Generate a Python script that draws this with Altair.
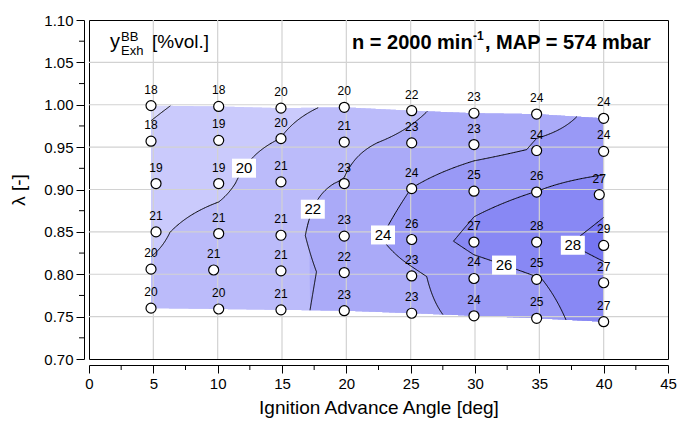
import numpy as np
import pandas as pd
import altair as alt
from collections import defaultdict

# Measured operating points, column by column (ignition advance sweep),
# rows ordered from lean (top) to rich (bottom).
IGN = [4.82, 4.82, 5.21, 5.21, 4.82, 4.82,
       10.08, 10.08, 10.08, 10.08, 9.69, 10.08,
       14.92, 14.92, 14.92, 14.92, 14.92, 14.92,
       19.84, 19.84, 19.84, 19.84, 19.84, 19.84,
       25.08, 25.08, 25.08, 25.08, 25.08, 25.08,
       29.92, 29.92, 29.92, 29.92, 29.92, 29.92,
       34.79, 34.79, 34.79, 34.79, 34.79, 34.79,
       40.0, 40.0, 39.66, 40.0, 40.0, 40.0]
LAM = [0.999, 0.957, 0.907, 0.850, 0.806, 0.760,
       0.998, 0.958, 0.907, 0.848, 0.805, 0.759,
       0.996, 0.960, 0.909, 0.846, 0.804, 0.758,
       0.997, 0.956, 0.907, 0.845, 0.802, 0.757,
       0.993, 0.955, 0.901, 0.841, 0.798, 0.754,
       0.990, 0.953, 0.898, 0.838, 0.795, 0.751,
       0.989, 0.946, 0.897, 0.838, 0.794, 0.748,
       0.984, 0.945, 0.894, 0.834, 0.790, 0.744]
YBB = [18, 18, 19, 21, 20, 20,
       18, 19, 19, 21, 21, 20,
       20, 20, 21, 21, 21, 21,
       20, 21, 23, 23, 22, 23,
       22, 23, 24, 26, 23, 23,
       23, 23, 25, 27, 24, 24,
       24, 24, 26, 28, 25, 25,
       24, 24, 27, 29, 27, 27]

# smoothed response surface at the same nodes (same column/row order)
YBB_FIT = [17.80, 18.27, 18.90, 19.60, 20.20, 20.60,
           18.50, 19.00, 19.40, 21.03, 20.80, 20.90,
           19.50, 20.02, 21.62, 21.50, 21.40, 21.50,
           20.35, 21.60, 22.07, 22.80, 22.47, 22.59,
           21.70, 22.40, 24.02, 24.98, 23.66, 23.60,
           22.90, 23.20, 25.49, 26.50, 25.07, 24.40,
           23.70, 24.15, 26.02, 27.30, 25.90, 25.30,
           24.20, 24.30, 27.43, 28.70, 27.07, 26.90]
N_COLS, N_ROWS = 8, 6

X_TICKS = [0, 5, 10, 15, 20, 25, 30, 35, 40, 45]
X_MINOR = [2.5, 7.5, 12.5, 17.5, 22.5, 27.5, 32.5, 37.5, 42.5]
Y_TICKS = [0.70, 0.75, 0.80, 0.85, 0.90, 0.95, 1.00, 1.05, 1.10]
Y_MINOR = [0.725, 0.775, 0.825, 0.875, 0.925, 0.975, 1.025, 1.075]

LEVELS = [18, 20, 22, 24, 26, 28]
BAND_COLORS = ["#d8d8fd", "#cacafc", "#bbbbfa", "#aaaaf8",
               "#9999f6", "#8888f4", "#7676f2"]

# where the level labels sit along their iso-lines
LABEL_LEVEL = [20, 22, 24, 26, 28]
LABEL_IGN = [12.4, 17.6, 22.7, 32.3, 37.6]
LABEL_LAM = [0.921, 0.876, 0.848, 0.811, 0.834]

W, H = 579, 339
FONT = "Liberation Sans"

# ---- node mesh: columns at the top-row ignition angle, rows at measured lambda ----
node_x = np.array(IGN, float).reshape(N_COLS, N_ROWS)[:, 0]
node_l = np.array(LAM, float).reshape(N_COLS, N_ROWS)
node_z = np.array(YBB_FIT, float).reshape(N_COLS, N_ROWS)
cidx = np.arange(N_COLS, dtype=float)


def bil(A, u, s):
    """Bilinear value of node array A at column coordinate u and row coordinate s."""
    u = np.asarray(u, float)
    s = np.asarray(s, float)
    c = np.clip(np.floor(u).astype(int), 0, N_COLS - 2)
    r = np.clip(np.floor(s).astype(int), 0, N_ROWS - 2)
    fu, fs = u - c, s - r
    return ((1 - fu) * (1 - fs) * A[c, r] + fu * (1 - fs) * A[c + 1, r]
            + (1 - fu) * fs * A[c, r + 1] + fu * fs * A[c + 1, r + 1])


def ign_at(u):
    return np.interp(u, cidx, node_x)


# ---- filled bands: one ranged area per super-level set {z >= level} ----
U = np.linspace(0, N_COLS - 1, 701)
S = np.linspace(0, N_ROWS - 1, 1201)
band_rows = []
for k in range(len(LEVELS) + 1):
    seg, prev = 0, False
    for u in U:
        lam = bil(node_l, np.full_like(S, u), S)
        if k == 0:
            hi, lo, ok = lam[0], lam[-1], True
        else:
            lev = LEVELS[k - 1]
            z = bil(node_z, np.full_like(S, u), S)
            m = np.nonzero(z >= lev)[0]
            ok = m.size > 0
            if ok:
                i0, i1 = m[0], m[-1]
                if i0 > 0:
                    t = (lev - z[i0 - 1]) / (z[i0] - z[i0 - 1])
                    hi = lam[i0 - 1] + t * (lam[i0] - lam[i0 - 1])
                else:
                    hi = lam[0]
                if i1 < len(S) - 1:
                    t = (lev - z[i1 + 1]) / (z[i1] - z[i1 + 1])
                    lo = lam[i1 + 1] + t * (lam[i1] - lam[i1 + 1])
                else:
                    lo = lam[-1]
        if ok:
            if not prev:
                seg += 1
            band_rows.append({"ign": round(float(ign_at(u)), 5), "lo": round(float(lo), 6),
                              "hi": round(float(hi), 6), "band": k,
                              "grp": f"{k}-{seg}"})
        prev = ok
band_df = pd.DataFrame(band_rows)


# ---- iso-lines by marching squares on the (column, row) mesh ----
def iso_chains(Z, level):
    ab = Z >= level
    code = ab[:-1, :-1] * 1 + ab[:-1, 1:] * 2 + ab[1:, 1:] * 4 + ab[1:, :-1] * 8
    segs = []
    for j, i in np.argwhere((code > 0) & (code < 15)):
        j, i = int(j), int(i)
        corners = [(j, i), (j, i + 1), (j + 1, i + 1), (j + 1, i)]
        pts = []
        for e in range(4):
            p, q = corners[e], corners[(e + 1) % 4]
            zp, zq = Z[p], Z[q]
            if (zp >= level) != (zq >= level):
                t = (level - zp) / (zq - zp)
                key = (min(p, q), max(p, q))
                pts.append((key, (p[0] + t * (q[0] - p[0]), p[1] + t * (q[1] - p[1]))))
        for a in range(0, len(pts) - 1, 2):
            segs.append((pts[a], pts[a + 1]))
    nbr = defaultdict(list)
    coord = {}
    for (k1, c1), (k2, c2) in segs:
        coord[k1], coord[k2] = c1, c2
        nbr[k1].append(k2)
        nbr[k2].append(k1)
    visited = set()
    chains = []
    for s0 in [k for k in nbr if len(nbr[k]) == 1] + list(nbr):
        if s0 in visited:
            continue
        chain, cur = [s0], s0
        visited.add(s0)
        while True:
            nxt = [n for n in nbr[cur] if n not in visited]
            if not nxt:
                if len(chain) > 2 and s0 in nbr[cur]:
                    chain.append(s0)
                break
            cur = nxt[0]
            visited.add(cur)
            chain.append(cur)
        chains.append([coord[c] for c in chain])
    return chains


NU, NS = 351, 251
UU, SS = np.meshgrid(np.linspace(0, N_COLS - 1, NU), np.linspace(0, N_ROWS - 1, NS))
ZZ = bil(node_z, UU, SS)

line_rows = []
cid = 0
for lev in LEVELS:
    for ch in iso_chains(ZZ, lev):
        arr = np.array(ch)
        u = arr[:, 1] / (NU - 1) * (N_COLS - 1)
        s = arr[:, 0] / (NS - 1) * (N_ROWS - 1)
        xs, ls = ign_at(u), bil(node_l, u, s)
        for o, (a, b) in enumerate(zip(xs, ls)):
            line_rows.append({"ign": float(a), "lam": float(b), "chain": cid, "ord": o,
                              "level": lev})
        cid += 1
line_df = pd.DataFrame(line_rows)

# snap each level label onto its iso-line
lab_rows = []
for lev, lx, ly in zip(LABEL_LEVEL, LABEL_IGN, LABEL_LAM):
    sub = line_df[line_df["level"] == lev]
    if sub.empty:
        continue
    d = ((sub["ign"] - lx) / 45 * W) ** 2 + ((sub["lam"] - ly) / 0.4 * H) ** 2
    best = sub.loc[d.idxmin()]
    lab_rows.append({"ign": float(best["ign"]), "lam": float(best["lam"]), "txt": str(lev)})
lab_df = pd.DataFrame(lab_rows)

pts_df = pd.DataFrame({"ign": IGN, "lam": LAM, "y": YBB})
pts_df["txt"] = pts_df["y"].astype(str)

# major grid as two-point polylines (so it stacks above the filled bands)
grid_rows = []
for i, g in enumerate(X_TICKS[1:-1]):
    grid_rows += [{"ign": g, "lam": Y_TICKS[0], "gid": f"v{i}", "ord": 0},
                  {"ign": g, "lam": Y_TICKS[-1], "gid": f"v{i}", "ord": 1}]
for i, g in enumerate(Y_TICKS[1:-1]):
    grid_rows += [{"ign": X_TICKS[0], "lam": g, "gid": f"h{i}", "ord": 0},
                  {"ign": X_TICKS[-1], "lam": g, "gid": f"h{i}", "ord": 1}]
grid_df = pd.DataFrame(grid_rows)

# ---- encodings ----
xs_ = alt.Scale(domain=[0, 45], nice=False, zero=False)
ys_ = alt.Scale(domain=[0.70, 1.10], nice=False, zero=False)
xax = alt.Axis(values=X_TICKS, title="Ignition Advance Angle [deg]", grid=False,
               offset=6, tickSize=8, tickColor="black", domainColor="black",
               labelFont=FONT, labelFontSize=15, labelColor="black", labelPadding=3,
               titleFont=FONT, titleFontSize=19, titleFontWeight="normal",
               titleColor="black", titlePadding=7, labelFlush=False)
yax = alt.Axis(values=Y_TICKS, format=".2f", title="λ [-]", grid=False,
               offset=5, tickSize=8, tickColor="black", domainColor="black",
               labelFont=FONT, labelFontSize=15, labelColor="black", labelPadding=3,
               titleFont=FONT, titleFontSize=19, titleFontWeight="normal",
               titleColor="black", titlePadding=15, labelFlush=False)


def X(f):
    return alt.X(f, type="quantitative", scale=xs_, axis=xax)


def Y(f):
    return alt.Y(f, type="quantitative", scale=ys_, axis=yax, stack=None)


band_scale = alt.Scale(domain=list(range(len(BAND_COLORS))), range=BAND_COLORS)
fills = alt.Chart(band_df).mark_area(orient="vertical", opacity=1).encode(
    x=X("ign"), y=Y("lo"), y2=alt.Y2("hi"),
    color=alt.Color("band:O", scale=band_scale, legend=None),
    detail=alt.Detail("grp:N"),
)

grid = alt.Chart(grid_df).mark_line(color="#d2d2d2", strokeWidth=1.2).encode(
    x=X("ign"), y=Y("lam"), detail="gid:N", order="ord:Q")

xminor = alt.Chart(pd.DataFrame({"g": X_MINOR})).mark_rule(
    color="black", strokeWidth=1).encode(x=X("g"), y=alt.value(H + 6), y2=alt.value(H + 11))
yminor = alt.Chart(pd.DataFrame({"g": Y_MINOR})).mark_rule(
    color="black", strokeWidth=1).encode(y=Y("g"), x=alt.value(-5), x2=alt.value(-10))

lines = alt.Chart(line_df).mark_line(color="black", strokeWidth=1).encode(
    x=X("ign"), y=Y("lam"), detail="chain:N", order="ord:Q")

BOX = "M-1.2,-0.95L1.2,-0.95L1.2,0.95L-1.2,0.95Z"
boxes = alt.Chart(lab_df).mark_point(
    shape=BOX, size=400, filled=True, fill="white", stroke=None, opacity=1).encode(
    x=X("ign"), y=Y("lam"))
box_txt = alt.Chart(lab_df).mark_text(font=FONT, fontSize=15, color="black").encode(
    x=X("ign"), y=Y("lam"), text="txt:N")

circles = alt.Chart(pts_df).mark_point(
    shape="circle", size=100, filled=True, fill="white", stroke="black",
    strokeWidth=1.2, opacity=1).encode(x=X("ign"), y=Y("lam"))
pt_txt = alt.Chart(pts_df).mark_text(font=FONT, fontSize=12, color="black",
                                     dy=-12, baseline="alphabetic").encode(
    x=X("ign"), y=Y("lam"), text="txt:N")

# quantity name and operating point written inside the plot
one = pd.DataFrame({"k": [0]})


def note(txt, x, y, size, weight="normal"):
    return alt.Chart(one).mark_text(text=txt, font=FONT, fontSize=size, fontWeight=weight,
                                    align="left", baseline="alphabetic", color="black").encode(
        x=alt.value(x), y=alt.value(y))


notes = [
    note("y", 21, 28, 20),
    note("BB", 32, 21, 13),
    note("Exh", 32, 35, 13),
    note("[%vol.]", 63, 28, 19),
    note("n = 2000 min", 263, 29, 20, "bold"),
    note("-1", 384, 20, 12, "bold"),
    note(", MAP = 574 mbar", 396, 29, 20, "bold"),
]

chart = alt.layer(fills, grid, lines, boxes, box_txt, circles, pt_txt,
                  xminor, yminor, *notes).properties(
    width=W, height=H,
    autosize=alt.AutoSizeParams(type="none"),
    padding={"left": 89, "top": 20, "right": 10, "bottom": 62},
    background="white",
).configure_view(stroke="black", strokeWidth=1)

chart.save("out.html", embed_options={"renderer": "svg", "actions": False})
